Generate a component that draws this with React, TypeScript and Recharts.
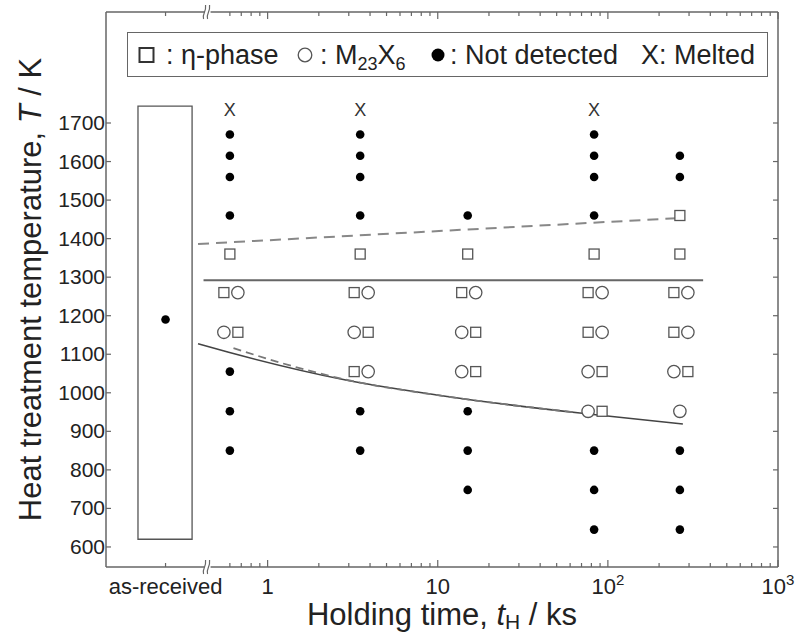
import React from 'react';
import {
  ComposedChart,
  Scatter,
  Line,
  XAxis,
  YAxis,
  ReferenceArea,
  ReferenceDot,
  Legend,
} from 'recharts';

const FONT = '"Liberation Sans", Arial, Helvetica, sans-serif';
const INK = '#222';
const FRAME = '#666';
const MARK = '#555';

// holding time of each test series, ks
const holdTimes = [0.6, 3.5, 15, 83, 265];
// heat-treatment temperature of each row, K
const temps = [1735, 1670, 1615, 1560, 1460, 1360, 1260, 1157, 1055, 952, 850, 748, 645];
// phases per row: S = eta-phase, C = M23X6, D = not detected, X = melted
const series1 = ['X', 'D', 'D', 'D', 'D', 'S', 'SC', 'CS', 'D', 'D', 'D', '', ''];
const series2 = ['X', 'D', 'D', 'D', 'D', 'S', 'SC', 'CS', 'SC', 'D', 'D', '', ''];
const series3 = ['', '', '', '', 'D', 'S', 'SC', 'CS', 'CS', 'D', 'D', 'D', ''];
const series4 = ['X', 'D', 'D', 'D', 'D', 'S', 'SC', 'SC', 'CS', 'CS', 'D', 'D', 'D'];
const series5 = ['', '', 'D', 'D', 'S', 'S', 'SC', 'SC', 'CS', 'C', 'D', 'D', 'D'];

// as-received specimen, shown left of the axis break
const asReceivedTemp = 1190;
const asReceivedRange = [620, 1744];

// phase boundaries (time in ks, temperature in K)
const upperDashT = [0.39, 280];
const upperDashK = [1386, 1454];
const middleT = [0.42, 363];
const middleK = [1292, 1292];
const lowerT = [0.39, 0.59, 2.88, 11.9, 77, 276];
const lowerK = [1127, 1105, 1033, 989, 945, 919];
const lowerDashT = [0.63, 1.19, 2.88, 11.9, 65];
const lowerDashK = [1116, 1078, 1034, 989, 949];

// axis ticks
const tempTicks = [600, 700, 800, 900, 1000, 1100, 1200, 1300, 1400, 1500, 1600, 1700];
const majorTimes = [1, 10, 100, 1000];
const majorLabels = ['1', '10', '10|2', '10|3'];
const minorTimes = [
  0.6, 0.7, 0.8, 0.9,
  2, 3, 4, 5, 6, 7, 8, 9,
  20, 30, 40, 50, 60, 70, 80, 90,
  200, 300, 400, 500, 600, 700, 800, 900,
];

// x axis works in log10(ks); the slots left of the break are fixed positions
const X_DOMAIN: [number, number] = [-0.95, 3.0];
const Y_DOMAIN: [number, number] = [548, 1988];
const AS_RECEIVED_X = -0.6;
const AS_RECEIVED_BOX: [number, number] = [-0.762, -0.444];
const BREAK_X = -0.353;

const lg = (t: number) => Math.log10(t);

type Mark = { x: number; y: number; kind: string; side: number };
const marks: Mark[] = [];
[series1, series2, series3, series4, series5].forEach((codes, c) => {
  codes.forEach((code, r) => {
    code.split('').forEach((kind, i) => {
      const side = code.length === 2 ? (i === 0 ? -1 : 1) : 0;
      marks.push({ x: lg(holdTimes[c]), y: temps[r], kind, side });
    });
  });
});
const byKind = (k: string) => marks.filter((m) => m.kind === k);

const toLine = (ts: number[], ks: number[]) => ts.map((t, i) => ({ x: lg(t), y: ks[i] }));

const xTicks = [
  AS_RECEIVED_X,
  ...minorTimes.map(lg),
  ...majorTimes.map(lg),
].sort((a, b) => a - b);
const majorIndex = (v: number) => majorTimes.findIndex((t) => Math.abs(lg(t) - v) < 1e-6);

const shift = (side: number) => (side < 0 ? -6 : side > 0 ? 8 : 0);

const SquareMark = (p: any) => (
  <rect
    x={p.cx + shift(p.payload.side) - 5}
    y={p.cy - 5}
    width={10}
    height={10}
    fill="#fff"
    stroke={MARK}
    strokeWidth={1.3}
  />
);
const CircleMark = (p: any) => (
  <circle cx={p.cx + shift(p.payload.side)} cy={p.cy} r={6.2} fill="#fff" stroke={MARK} strokeWidth={1.3} />
);
const DotMark = (p: any) => <circle cx={p.cx} cy={p.cy} r={4.3} fill="#000" />;
const MeltMark = (p: any) => (
  <text x={p.cx} y={p.cy + 6} textAnchor="middle" fontFamily={FONT} fontSize={18} fill="#333">
    X
  </text>
);

const BreakMark = (p: any) => (
  <g>
    <rect x={p.cx - 3} y={p.cy - 2} width={6} height={4} fill="#fff" />
    <path
      d={`M${p.cx - 4},${p.cy + 7} C${p.cx - 6},${p.cy + 2} ${p.cx - 1},${p.cy + 1} ${p.cx - 2},${p.cy - 7}`}
      fill="none"
      stroke={FRAME}
      strokeWidth={1.2}
    />
    <path
      d={`M${p.cx},${p.cy + 7} C${p.cx - 2},${p.cy + 2} ${p.cx + 3},${p.cy + 1} ${p.cx + 2},${p.cy - 7}`}
      fill="none"
      stroke={FRAME}
      strokeWidth={1.2}
    />
  </g>
);

const BottomTick = (p: any) => {
  const v = p.payload.value;
  const mi = majorIndex(v);
  const len = mi >= 0 ? 7 : 4;
  let label: React.ReactNode = null;
  if (Math.abs(v - AS_RECEIVED_X) < 1e-6) {
    label = 'as-received';
  } else if (mi >= 0) {
    const [base, exp] = majorLabels[mi].split('|');
    label = exp ? (
      <>
        {base}
        <tspan fontSize={15} dy={-9}>
          {exp}
        </tspan>
      </>
    ) : (
      base
    );
  }
  return (
    <g>
      <line x1={p.x} x2={p.x} y1={p.y} y2={p.y - len} stroke={FRAME} strokeWidth={1.2} />
      {label && (
        <text x={p.x} y={p.y + 27} textAnchor="middle" fontFamily={FONT} fontSize={22} fill={INK}>
          {label}
        </text>
      )}
    </g>
  );
};

const TopTick = (p: any) => {
  const len = majorIndex(p.payload.value) >= 0 ? 7 : 4;
  return <line x1={p.x} x2={p.x} y1={p.y} y2={p.y + len} stroke={FRAME} strokeWidth={1.2} />;
};

const LeftTick = (p: any) => (
  <g>
    <line x1={p.x} x2={p.x + 5} y1={p.y} y2={p.y} stroke={FRAME} strokeWidth={1.2} />
    <text x={p.x - 1} y={p.y + 7} textAnchor="end" fontFamily={FONT} fontSize={21} fill={INK}>
      {p.payload.value}
    </text>
  </g>
);

const RightTick = (p: any) => (
  <line x1={p.x} x2={p.x - 5} y1={p.y} y2={p.y} stroke={FRAME} strokeWidth={1.2} />
);

const XTitle = (p: any) => {
  const vb = p.viewBox;
  return (
    <text x={vb.x + vb.width / 2} y={625} textAnchor="middle" fontFamily={FONT} fontSize={31} fill={INK}>
      Holding time, <tspan fontStyle="italic">t</tspan>
      <tspan fontSize={21} dy={4}>
        H
      </tspan>
      <tspan dy={-4}> / ks</tspan>
    </text>
  );
};

const YTitle = (p: any) => {
  const vb = p.viewBox;
  const cy = vb.y + vb.height / 2;
  return (
    <text
      x={41}
      y={cy}
      transform={`rotate(-90 41 ${cy})`}
      textAnchor="middle"
      fontFamily={FONT}
      fontSize={31}
      fill={INK}
    >
      Heat treatment temperature, <tspan fontStyle="italic">T</tspan> / K
    </text>
  );
};

const Sq = () => (
  <svg width={17} height={17} style={{ display: 'block' }}>
    <rect x={1.5} y={1.5} width={14} height={14} fill="#fff" stroke="#333" strokeWidth={2} />
  </svg>
);
const Ci = () => (
  <svg width={16} height={16} style={{ display: 'block' }}>
    <circle cx={8} cy={8} r={6.8} fill="#fff" stroke={MARK} strokeWidth={1.3} />
  </svg>
);
const Dt = () => (
  <svg width={14} height={14} style={{ display: 'block' }}>
    <circle cx={7} cy={7} r={6.5} fill="#000" />
  </svg>
);

const item = (left: number): React.CSSProperties => ({
  position: 'absolute',
  left,
  top: '50%',
  transform: 'translateY(-50%)',
  whiteSpace: 'nowrap',
});

const LegendBox = () => (
  <div
    style={{
      position: 'relative',
      boxSizing: 'border-box',
      height: 45,
      border: `1.5px solid ${FRAME}`,
      background: '#fff',
      fontFamily: FONT,
      fontSize: 27,
      lineHeight: '30px',
      color: INK,
    }}
  >
    <span style={item(10)}>
      <Sq />
    </span>
    <span style={item(38)}>: η-phase</span>
    <span style={item(169)}>
      <Ci />
    </span>
    <span style={item(192)}>
      : M<sub style={{ fontSize: 18, lineHeight: 0 }}>23</sub>X<sub style={{ fontSize: 18, lineHeight: 0 }}>6</sub>
    </span>
    <span style={item(303)}>
      <Dt />
    </span>
    <span style={item(322)}>: Not detected</span>
    <span style={item(513)}>X: Melted</span>
  </div>
);

export default function App() {
  return (
    <div style={{ position: 'absolute', left: 0, top: 0, background: '#fff' }}>
      <ComposedChart width={801} height={634} margin={{ top: 11, right: 22, bottom: 0, left: 0 }}>
        <XAxis
          dataKey="x"
          type="number"
          domain={X_DOMAIN}
          ticks={xTicks}
          interval={0}
          allowDataOverflow
          height={67}
          tickSize={0}
          tickMargin={0}
          tick={<BottomTick />}
          tickLine={false}
          axisLine={{ stroke: FRAME, strokeWidth: 1.5 }}
          label={<XTitle />}
        />
        <XAxis
          xAxisId="top"
          orientation="top"
          dataKey="x"
          type="number"
          domain={X_DOMAIN}
          ticks={xTicks}
          interval={0}
          allowDataOverflow
          height={1}
          tickSize={0}
          tickMargin={0}
          tick={<TopTick />}
          tickLine={false}
          axisLine={{ stroke: FRAME, strokeWidth: 1.5 }}
        />
        <YAxis
          dataKey="y"
          type="number"
          domain={Y_DOMAIN}
          ticks={tempTicks}
          interval={0}
          allowDataOverflow
          width={106}
          tickSize={0}
          tickMargin={0}
          tick={<LeftTick />}
          tickLine={false}
          axisLine={{ stroke: FRAME, strokeWidth: 1.5 }}
          label={<YTitle />}
        />
        <YAxis
          yAxisId="r"
          orientation="right"
          dataKey="y"
          type="number"
          domain={Y_DOMAIN}
          ticks={tempTicks}
          interval={0}
          allowDataOverflow
          width={1}
          tickSize={0}
          tickMargin={0}
          tick={<RightTick />}
          tickLine={false}
          axisLine={{ stroke: FRAME, strokeWidth: 1.5 }}
        />

        <ReferenceArea
          x1={AS_RECEIVED_BOX[0]}
          x2={AS_RECEIVED_BOX[1]}
          y1={asReceivedRange[0]}
          y2={asReceivedRange[1]}
          fill="#fff"
          fillOpacity={1}
          stroke={MARK}
          strokeWidth={1.3}
        />

        <Line
          data={toLine(upperDashT, upperDashK)}
          dataKey="y"
          type="linear"
          stroke="#888"
          strokeWidth={2}
          strokeDasharray="11 7"
          dot={false}
          isAnimationActive={false}
        />
        <Line
          data={toLine(middleT, middleK)}
          dataKey="y"
          type="linear"
          stroke="#666"
          strokeWidth={2}
          dot={false}
          isAnimationActive={false}
        />
        <Line
          data={toLine(lowerT, lowerK)}
          dataKey="y"
          type="monotone"
          stroke="#444"
          strokeWidth={1.6}
          dot={false}
          isAnimationActive={false}
        />
        <Line
          data={toLine(lowerDashT, lowerDashK)}
          dataKey="y"
          type="monotone"
          stroke="#777"
          strokeWidth={1.8}
          strokeDasharray="8 5"
          dot={false}
          isAnimationActive={false}
        />

        <Scatter data={[{ x: AS_RECEIVED_X, y: asReceivedTemp }]} dataKey="y" shape={DotMark} isAnimationActive={false} />
        <Scatter data={byKind('D')} dataKey="y" shape={DotMark} isAnimationActive={false} />
        <Scatter data={byKind('S')} dataKey="y" shape={SquareMark} isAnimationActive={false} />
        <Scatter data={byKind('C')} dataKey="y" shape={CircleMark} isAnimationActive={false} />
        <Scatter data={byKind('X')} dataKey="y" shape={MeltMark} isAnimationActive={false} />

        <ReferenceDot x={BREAK_X} y={Y_DOMAIN[0]} ifOverflow="visible" shape={BreakMark} />
        <ReferenceDot x={BREAK_X} y={Y_DOMAIN[1]} ifOverflow="visible" shape={BreakMark} />

        <Legend
          verticalAlign="middle"
          align="center"
          wrapperStyle={{ left: 127, top: 32, width: 641, height: 45 }}
          content={<LegendBox />}
        />
      </ComposedChart>
    </div>
  );
}
